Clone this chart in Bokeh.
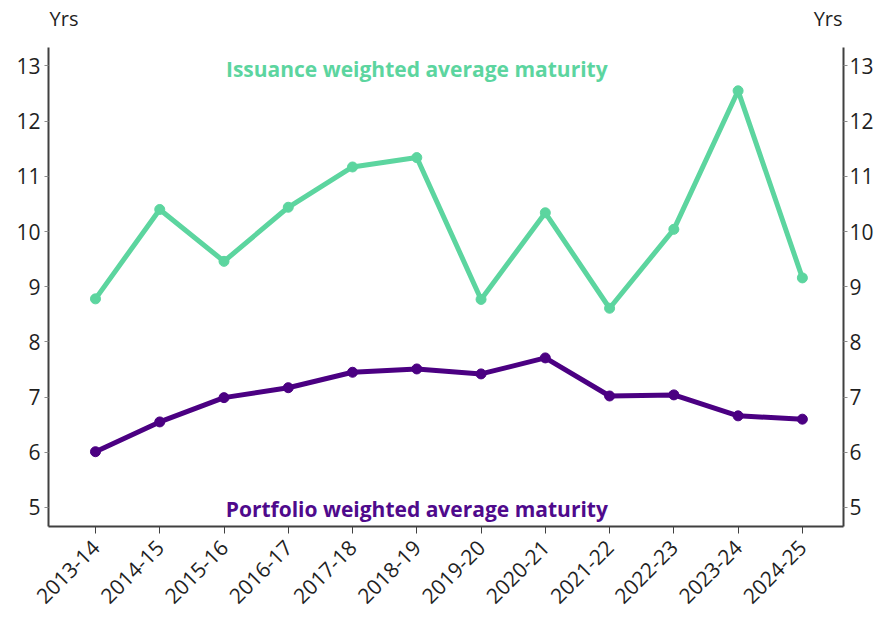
import math
from bokeh.plotting import figure
from bokeh.models import ColumnDataSource, Range1d, LinearAxis, Label, FixedTicker
from bokeh.embed import file_html
from bokeh.resources import INLINE

years = ["2013-14", "2014-15", "2015-16", "2016-17", "2017-18", "2018-19",
         "2019-20", "2020-21", "2021-22", "2022-23", "2023-24", "2024-25"]
issuance = [8.78, 10.40, 9.46, 10.44, 11.17, 11.34, 8.77, 10.34, 8.61, 10.04, 12.55, 9.16]
portfolio = [6.01, 6.55, 6.99, 7.17, 7.45, 7.51, 7.42, 7.71, 7.02, 7.04, 6.66, 6.60]
y_ticks = [5, 6, 7, 8, 9, 10, 11, 12, 13]
unit_label = "Yrs"

GREEN = "#5cd59f"
PURPLE = "#4b0082"
FONT = "Open Sans"
AXIS_COLOR = "#404040"
TEXT = "#1f1f1f"

xs = list(range(len(years)))
src = ColumnDataSource(dict(x=xs, iss=issuance, port=portfolio))

p = figure(width=876, height=620, output_backend="svg", toolbar_location=None,
           x_range=Range1d(-0.731, 11.64), y_range=Range1d(4.655, 13.335),
           min_border_left=48, min_border_right=28, min_border_top=47, min_border_bottom=94)
p.outline_line_color = None
p.xgrid.visible = False
p.ygrid.visible = False

p.line("x", "iss", source=src, line_color=GREEN, line_width=5)
p.scatter("x", "iss", source=src, size=10, color=GREEN)
p.line("x", "port", source=src, line_color=PURPLE, line_width=5)
p.scatter("x", "port", source=src, size=10, color=PURPLE)

# x axis
xa = p.xaxis[0]
xa.ticker = FixedTicker(ticks=xs)
xa.major_label_overrides = {i: y for i, y in enumerate(years)}
xa.major_label_orientation = math.pi / 4
xa.major_label_text_font = FONT
xa.major_label_text_font_size = "21px"
xa.major_label_text_color = TEXT
xa.axis_line_color = AXIS_COLOR
xa.axis_line_width = 2
xa.major_tick_line_color = AXIS_COLOR
xa.major_tick_out = 7
xa.major_tick_in = 0
xa.minor_tick_line_color = None
xa.major_label_standoff = 10

# left y axis
ya = p.yaxis[0]
ya.ticker = FixedTicker(ticks=y_ticks)
# right y axis
yr = LinearAxis(ticker=FixedTicker(ticks=y_ticks))
p.add_layout(yr, "right")
for ax in (ya, yr):
    ax.major_label_text_font = FONT
    ax.major_label_text_font_size = "21px"
    ax.major_label_text_color = TEXT
    ax.axis_line_color = AXIS_COLOR
    ax.axis_line_width = 2
    ax.major_tick_line_color = "#8c8c8c"
    ax.major_tick_out = 4
    ax.major_tick_in = 0
    ax.minor_tick_line_color = None
    ax.major_label_standoff = 4
yr.major_label_standoff = 2

# unit labels ("Yrs") above both y axes, drawn as an unlined top axis
top = LinearAxis(ticker=FixedTicker(ticks=[-0.49, 11.4]),
                 major_label_overrides={-0.49: unit_label, 11.4: unit_label})
top.axis_line_color = None
top.major_tick_line_color = None
top.minor_tick_line_color = None
top.major_label_text_font = FONT
top.major_label_text_font_size = "20px"
top.major_label_text_color = TEXT
top.major_label_standoff = 10
p.add_layout(top, "above")

# series labels
p.add_layout(Label(x=5, y=12.95, text="Issuance weighted average maturity",
                   text_align="center", text_baseline="middle", text_font=FONT,
                   text_font_style="bold", text_font_size="21px", text_color=GREEN))
p.add_layout(Label(x=5, y=4.98, text="Portfolio weighted average maturity",
                   text_align="center", text_baseline="middle", text_font=FONT,
                   text_font_style="bold", text_font_size="21px", text_color="#4f0a8c"))

open("out.html", "w").write(file_html(p, INLINE))
